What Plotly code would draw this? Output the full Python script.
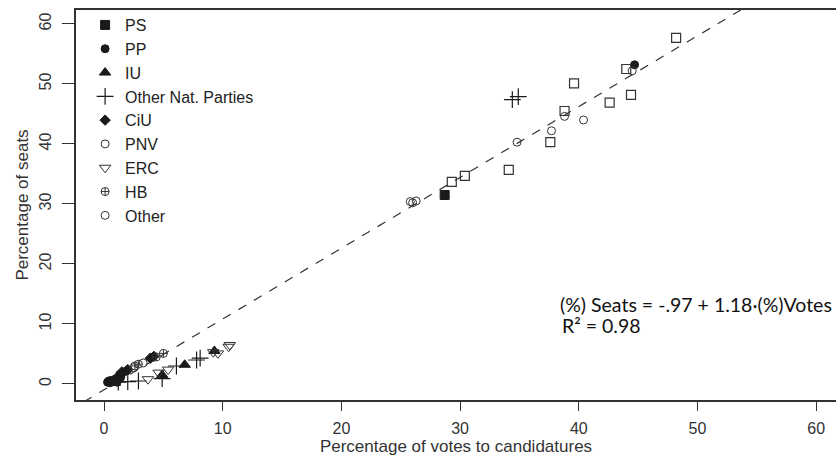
import plotly.graph_objects as go

# ---- data (percent of votes, percent of seats) ----
ps_x = [28.7]
ps_y = [31.5]
sq_x = [29.3, 30.4, 34.1, 37.6, 38.8, 39.6, 42.6, 44.4, 44.0, 48.2]
sq_y = [33.7, 34.7, 35.7, 40.3, 45.5, 50.1, 46.9, 48.2, 52.5, 57.7]
pp_x = [44.7, 0.3, 0.5, 0.8, 1.0, 1.3, 1.6, 1.9, 0.6, 1.1, 0.4, 1.4]
pp_y = [53.2, 0.3, 0.2, 0.4, 0.9, 1.5, 1.9, 2.2, 0.6, 0.3, 0.5, 1.1]
iu_x = [6.8, 4.9, 9.3, 0.9]
iu_y = [3.2, 1.5, 5.5, 0.2]
onp_x = [34.4, 34.9, 2.0, 2.9, 4.9, 6.1, 7.8, 8.1, 1.2]
onp_y = [47.4, 47.9, 0.4, 0.5, 0.9, 3.0, 4.0, 4.3, 0.3]
ciu_x = [1.5, 2.0, 3.9, 4.2]
ciu_y = [2.0, 2.4, 4.3, 4.6]
pnv_x = [25.8, 26.3, 34.8, 37.7, 38.8, 40.4, 44.5]
pnv_y = [30.4, 30.5, 40.3, 42.2, 44.6, 44.0, 52.2]
erc_x = [3.7, 4.6, 5.4, 9.2, 9.6, 10.6, 10.5]
erc_y = [0.8, 1.9, 2.4, 5.3, 5.1, 6.5, 6.2]
hb_x = [2.9, 4.4, 5.0, 2.6]
hb_y = [3.3, 4.5, 5.1, 3.0]
oth_x = [26.0, 3.3, 2.5]
oth_y = [30.2, 3.5, 2.7]
fit_intercept = -0.97
fit_slope = 1.18
fit_x = [-3.0, 62.0]
fit_y = [fit_intercept + fit_slope * v for v in fit_x]
x_ticks = [0, 10, 20, 30, 40, 50, 60]
y_ticks = [0, 10, 20, 30, 40, 50, 60]

INK = "#1a1a1a"
LINE = "#333333"

fig = go.Figure()

fig.add_trace(go.Scatter(x=fit_x, y=fit_y, mode="lines", showlegend=False,
                         line=dict(color="#333333", width=1.2, dash="dash")))

def add(name, xs, ys, symbol, size, color=INK, lw=1.0, legend=True, grp=None):
    fig.add_trace(go.Scatter(
        x=xs, y=ys, mode="markers", name=name, showlegend=legend,
        legendgroup=grp or name,
        marker=dict(symbol=symbol, size=size, color=color,
                    line=dict(color=color, width=lw))))

add("PS", ps_x, ps_y, "square", 9)
add("PP", pp_x, pp_y, "circle", 8)
add("IU", iu_x, iu_y, "triangle-up", 10)
add("Other Nat. Parties", onp_x, onp_y, "cross-thin-open", 12, lw=1.2)
add("CiU", ciu_x, ciu_y, "diamond", 8)
add("PNV", pnv_x, pnv_y, "circle-open", 8, color=LINE)
add("ERC", erc_x, erc_y, "triangle-down-open", 10, color=LINE)
add("HB", hb_x, hb_y, "circle-cross-open", 8, color=LINE)
add("Other", oth_x, oth_y, "circle-open", 8, color=LINE)
add("PS (open)", sq_x, sq_y, "square-open", 9, color=LINE, lw=1.2, legend=False)

fig.add_annotation(text="(%) Seats = -.97 + 1.18·(%)Votes", xref="paper", yref="paper",
                   x=0.634, y=0.246, xanchor="left", yanchor="middle", showarrow=False,
                   font=dict(family="Lato", size=19.5, color="#111111"))
fig.add_annotation(text="R² = 0.98", xref="paper", yref="paper",
                   x=0.637, y=0.192, xanchor="left", yanchor="middle", showarrow=False,
                   font=dict(family="Lato", size=19.5, color="#111111"))

tick_font = dict(family="Liberation Sans", size=16, color="#333333")
title_font = dict(family="Liberation Sans", size=17, color="#333333")
fig.update_layout(
    width=836, height=457,
    margin=dict(l=76, r=0, t=10, b=57),
    paper_bgcolor="white", plot_bgcolor="white",
    showlegend=True,
    legend=dict(x=0.012, y=1.005, xanchor="left", yanchor="top", maxheight=420,
                font=dict(family="Liberation Sans", size=16, color="#222222"),
                bgcolor="rgba(0,0,0,0)", borderwidth=0, tracegroupgap=0,
                itemsizing="trace"),
    xaxis=dict(range=[-2.36, 61.67], tickvals=x_ticks, ticks="outside", ticklen=9,
               tickwidth=1.2, tickcolor=LINE, showline=True, linecolor=LINE, linewidth=1.5,
               mirror=True, showgrid=False, zeroline=False, tickfont=tick_font,
               ticklabelstandoff=4, automargin=False,
               title=dict(text="Percentage of votes to candidatures", font=title_font, standoff=2)),
    yaxis=dict(range=[-2.67, 62.33], tickvals=y_ticks, ticks="outside", ticklen=12,
               tickwidth=1.2, tickcolor=LINE, showline=True, linecolor=LINE, linewidth=1.5,
               mirror=False, showgrid=False, zeroline=False, tickfont=tick_font,
               tickangle=-90, ticklabelstandoff=5, automargin=False,
               title=dict(text="Percentage of seats", font=title_font, standoff=4)),
)

fig.write_html("out.html", config={"displayModeBar": False},
               post_script="document.body.style.margin='0';document.body.style.overflow='hidden';")
